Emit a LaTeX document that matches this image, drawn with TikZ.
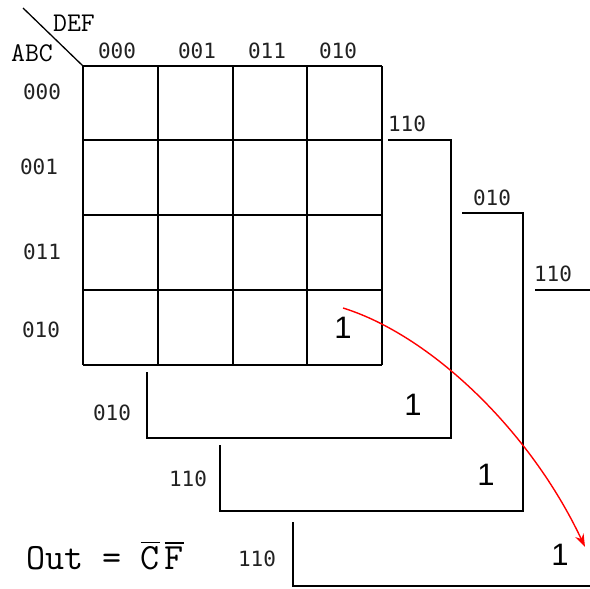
\documentclass[tikz,border=0pt]{standalone}
\usepackage{fontspec}
\usepackage{tikz}
\usetikzlibrary{arrows.meta}
\newfontfamily\bitsfont{DejaVu Sans Mono}
\newfontfamily\onefont{Liberation Sans}
\definecolor{KMLine}{HTML}{000000}
\definecolor{KMArrow}{HTML}{FF0000}
\definecolor{KMText}{HTML}{222222}
\newcommand\negbit[1]{\vbox{\hrule height 1.5pt\kern 2.5pt\hbox{#1}}}
\tikzset{
  code/.style={inner sep=0pt,text=KMText,font=\bitsfont\fontsize{21}{21}\selectfont},
  varname/.style={inner sep=0pt,font=\ttfamily\fontsize{27}{27}\selectfont},
  onebit/.style={inner sep=0pt,font=\onefont\fontsize{31}{31}\selectfont},
  kmline/.style={KMLine,line width=1.7pt}
}
\begin{document}
\begin{tikzpicture}[x=1pt,y=-1pt]
\useasboundingbox (0,0) rectangle (590,589);
% corner labels
\coordinate (diag) at (23,8);
\coordinate (nw) at (83,66);
\draw[kmline,line width=1.3pt] (diag)--(nw);
\node[varname] (def) at (74,23) {DEF};
\node[varname] (abc) at (32,53) {ABC};
% column and row codes
\node[code] (c000) at (117,51) {000};
\node[code] (c001) at (197,51) {001};
\node[code] (c011) at (267,51) {011};
\node[code] (c010) at (338,51) {010};
\node[code] (r000) at (42,92) {000};
\node[code] (r001) at (39,167) {001};
\node[code] (r011) at (42,252) {011};
\node[code] (r010) at (41,330) {010};
% first map
\foreach \x in {83,158,233,307,382} \draw[kmline] (\x,66)--(\x,365);
\foreach \y in {66,140,215,290,365} \draw[kmline] (83,\y)--(382,\y);
% maps behind
\draw[kmline] (388,140)--(451,140)--(451,438)--(147,438)--(147,372);
\draw[kmline] (462,213)--(523,213)--(523,511)--(220,511)--(220,445);
\draw[kmline] (535,290)--(590,290);
\draw[kmline] (293,522)--(293,586)--(590,586);
\node[code] (top2) at (407,124) {110};
\node[code] (top3) at (492,198) {010};
\node[code] (top4) at (553,274) {110};
\node[code] (left2) at (112,413) {010};
\node[code] (left3) at (188,479) {110};
\node[code] (left4) at (257,559) {110};
% ones
\node[onebit] (one1) at (343,328) {1};
\node[onebit] (one2) at (413,405) {1};
\node[onebit] (one3) at (486,475) {1};
\node[onebit] (one4) at (560,555) {1};
\coordinate (from) at (343,308);
\coordinate (to) at (585,547);
\draw[KMArrow,line width=1.4pt,-{Stealth[length=13pt,width=9pt]}] (from) .. controls (430,335) and (530,430) .. (to);
% result
\node[varname,font=\ttfamily\fontsize{37}{37}\selectfont,anchor=base west] (out) at (26,569) {Out = \negbit{C}\kern5pt\negbit{F}};
\end{tikzpicture}
\end{document}
